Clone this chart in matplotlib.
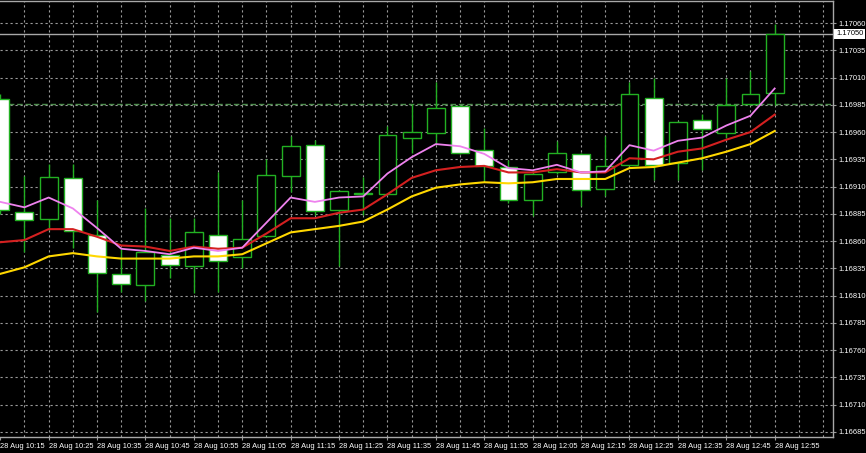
import matplotlib.pyplot as plt
import matplotlib.transforms as mtransforms
from matplotlib.patches import Rectangle

# EURUSD M5 bars, 28 Aug 10:15 .. 12:55
bar_open = [1.16990, 1.16887, 1.16880, 1.16918, 1.16866, 1.16830, 1.16820, 1.16847, 1.16837,
            1.16866, 1.16845, 1.16865, 1.16920, 1.16948, 1.16889, 1.16903, 1.16903, 1.16955,
            1.16959, 1.16984, 1.16944, 1.16928, 1.16898, 1.16923, 1.16940, 1.16908, 1.16930,
            1.16991, 1.16932, 1.16971, 1.16959, 1.16986, 1.16996]
bar_high = [1.16995, 1.16920, 1.16931, 1.16931, 1.16898, 1.16853, 1.16890, 1.16881, 1.16881,
            1.16923, 1.16898, 1.16935, 1.16956, 1.16953, 1.16907, 1.16919, 1.16966, 1.16986,
            1.17006, 1.16985, 1.16964, 1.16934, 1.16925, 1.16952, 1.16941, 1.16956, 1.17006,
            1.17010, 1.16970, 1.16977, 1.17010, 1.17016, 1.17059]
bar_low = [1.16885, 1.16850, 1.16870, 1.16854, 1.16795, 1.16813, 1.16805, 1.16826, 1.16812,
           1.16813, 1.16835, 1.16864, 1.16905, 1.16884, 1.16837, 1.16884, 1.16902, 1.16941,
           1.16950, 1.16940, 1.16915, 1.16895, 1.16883, 1.16922, 1.16892, 1.16901, 1.16929,
           1.16916, 1.16916, 1.16925, 1.16955, 1.16985, 1.16985]
bar_close = [1.16889, 1.16879, 1.16919, 1.16869, 1.16831, 1.16821, 1.16850, 1.16838, 1.16868,
             1.16842, 1.16862, 1.16921, 1.16947, 1.16888, 1.16906, 1.16904, 1.16957, 1.16960,
             1.16982, 1.16941, 1.16929, 1.16898, 1.16922, 1.16941, 1.16907, 1.16929, 1.16995,
             1.16930, 1.16969, 1.16963, 1.16985, 1.16995, 1.17050]

# moving averages (fast violet, middle red, slow gold)
ma_fast = [1.16896, 1.16891, 1.16900, 1.16890, 1.16872, 1.16853, 1.16851, 1.16848, 1.16854,
           1.16851, 1.16854, 1.16877, 1.16900, 1.16896, 1.16900, 1.16901, 1.16922, 1.16937,
           1.16949, 1.16947, 1.16940, 1.16927, 1.16925, 1.16930, 1.16923, 1.16924, 1.16948,
           1.16943, 1.16952, 1.16955, 1.16966, 1.16975, 1.17000]
ma_mid = [1.16859, 1.16861, 1.16871, 1.16871, 1.16864, 1.16856, 1.16855, 1.16851, 1.16855,
          1.16853, 1.16854, 1.16867, 1.16881, 1.16881, 1.16886, 1.16889, 1.16903, 1.16918,
          1.16925, 1.16928, 1.16929, 1.16923, 1.16923, 1.16926, 1.16923, 1.16923, 1.16936,
          1.16935, 1.16942, 1.16945, 1.16953, 1.16960, 1.16976]
ma_slow = [1.16830, 1.16836, 1.16846, 1.16849, 1.16846, 1.16844, 1.16844, 1.16844, 1.16846,
           1.16846, 1.16848, 1.16858, 1.16868, 1.16871, 1.16874, 1.16878, 1.16889, 1.16901,
           1.16909, 1.16912, 1.16914, 1.16913, 1.16914, 1.16917, 1.16917, 1.16917, 1.16927,
           1.16928, 1.16932, 1.16936, 1.16942, 1.16949, 1.16961]

time_labels = ["28 Aug 10:15", "28 Aug 10:25", "28 Aug 10:35", "28 Aug 10:45", "28 Aug 10:55",
               "28 Aug 11:05", "28 Aug 11:15", "28 Aug 11:25", "28 Aug 11:35", "28 Aug 11:45",
               "28 Aug 11:55", "28 Aug 12:05", "28 Aug 12:15", "28 Aug 12:25", "28 Aug 12:35",
               "28 Aug 12:45", "28 Aug 12:55"]
price_ticks = [1.16685, 1.16710, 1.16735, 1.16760, 1.16785, 1.16810, 1.16835, 1.16860,
               1.16885, 1.16910, 1.16935, 1.16960, 1.16985, 1.17010, 1.17035, 1.17060]
bid_price = 1.17050
level_price = 1.16986

candle_green = "#22b022"
grid_color = "#9a9a9a"
font = "Liberation Sans"

fig = plt.figure(figsize=(8.66, 4.53), dpi=100, facecolor="black")
ax = fig.add_axes([0, 16 / 453, 833 / 866, 436 / 453], facecolor="black")

# grid
for p in price_ticks:
    ax.axhline(p, color=grid_color, linestyle=(0, (2, 2.5)), linewidth=0.8, zorder=0)
for i in range(1, 35):
    ax.axvline(i, color=grid_color, linestyle=(0, (2, 2.5)), linewidth=0.8, zorder=0)

ax.axhline(level_price, color="#4f8f4f", linestyle=(0, (4, 2)), linewidth=1, zorder=1)
ax.axhline(bid_price, color="#a8a8a8", linewidth=1, zorder=1)

# candles
for i in range(len(bar_open)):
    o, h, l, c = bar_open[i], bar_high[i], bar_low[i], bar_close[i]
    ax.vlines(i, l, h, color=candle_green, linewidth=1, zorder=2)
    fill = "black" if c >= o else "white"
    ax.add_patch(Rectangle((i - 0.37, min(o, c)), 0.74, abs(c - o),
                           facecolor=fill, edgecolor=candle_green, linewidth=1, zorder=3))

x = list(range(len(bar_open)))
ax.plot(x, ma_slow, color="#ffd700", linewidth=1.5, zorder=4)
ax.plot(x, ma_mid, color="#d42020", linewidth=1.5, zorder=5)
ax.plot(x, ma_fast, color="#ee82ee", linewidth=1.3, zorder=6)

ax.set_xlim(-0.01, 34.41)
ax.set_ylim(1.166804, 1.170802)

ax.set_xticks(list(range(0, 33, 2)))
ax.set_xticklabels(time_labels, fontsize=5.4, color="white", family=font, ha="left")
ax.set_yticks(price_ticks)
ax.set_yticklabels(["%.5f" % p for p in price_ticks], fontsize=5.4, color="white", family=font)
ax.yaxis.tick_right()
ax.tick_params(axis="both", colors=grid_color, length=2.5, width=0.8, pad=1.5,
               labelcolor="white")

for side in ["left"]:
    ax.spines[side].set_visible(False)
for side in ["right", "bottom", "top"]:
    ax.spines[side].set_color("#a8a8a8")
    ax.spines[side].set_linewidth(1)

# bid price box on the axis
trans = mtransforms.blended_transform_factory(ax.transAxes, ax.transData)
ax.text(1.004, bid_price, "%.5f" % bid_price, transform=trans, ha="left", va="center",
        fontsize=5.4, color="black", family=font, zorder=10, clip_on=False,
        bbox=dict(boxstyle="square,pad=0.25", facecolor="white", edgecolor="none"))

fig.savefig("out.png", dpi=100, facecolor="black")
